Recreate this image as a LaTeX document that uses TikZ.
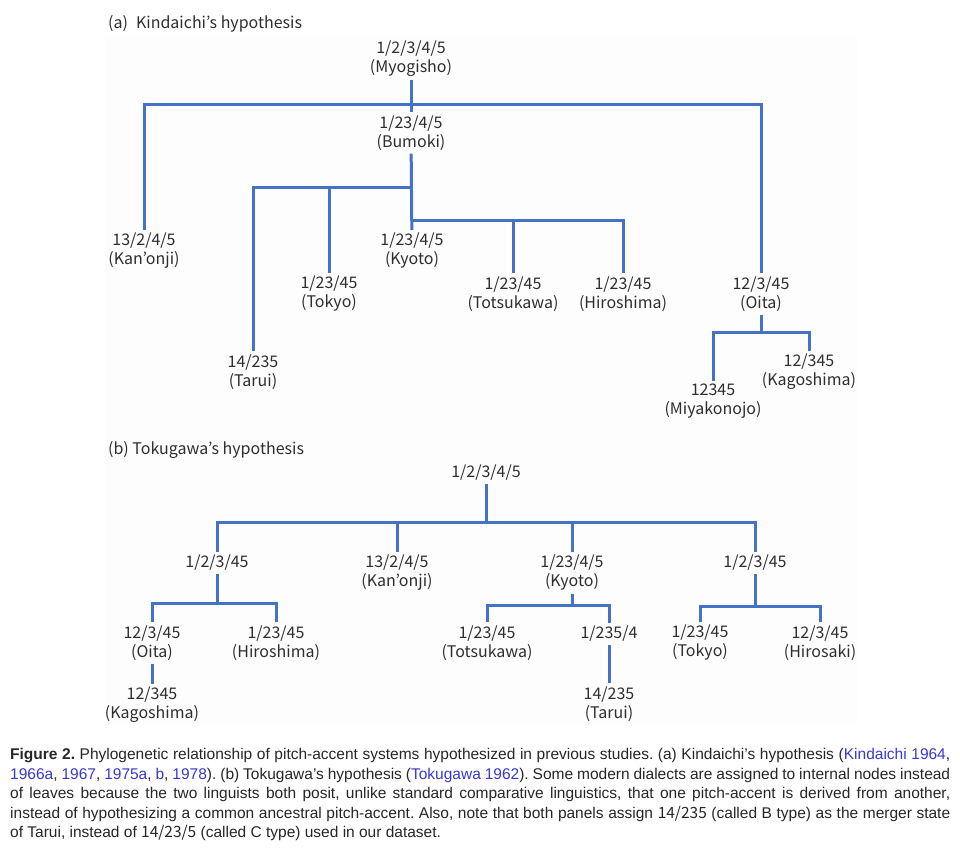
\documentclass[tikz,border=0pt]{standalone}
\usepackage{fontspec}
\setmainfont{Noto Sans CJK JP}
\newfontfamily\capfont{Liberation Sans}
\usepackage{xcolor}
\usetikzlibrary{positioning}
\definecolor{treeblue}{HTML}{4472C4}
\definecolor{citeblue}{HTML}{3838D0}
\definecolor{textgray}{HTML}{2E2E2E}

\tikzset{
  taxon/.style={align=center, inner sep=3pt, text=textgray,
    font=\fontsize{16}{19}\selectfont},
  branch/.style={draw=treeblue, line width=3pt},
}

\begin{document}
\frenchspacing
\begin{tikzpicture}[x=1pt, y=-1pt]
\useasboundingbox (0,0) rectangle (960,849);
\fill[black!0.8] (105,36) rectangle (857,723);

% (a) Kindaichi
\node[taxon, anchor=west] (titlea) at (105,24) {(a)\enspace Kindaichi’s hypothesis};
\node[taxon] (myo) at (411,59) {1/2/3/4/5\\(Myogisho)};
\node[taxon] (bum) at (411,133) {1/23/4/5\\(Bumoki)};
\node[taxon] (kan) at (144,251) {13/2/4/5\\(Kan’onji)};
\node[taxon] (kyo) at (412,251) {1/23/4/5\\(Kyoto)};
\node[taxon] (tok) at (329,294) {1/23/45\\(Tokyo)};
\node[taxon] (tot) at (513,294) {1/23/45\\(Totsukawa)};
\node[taxon] (hir) at (623,294) {1/23/45\\(Hiroshima)};
\node[taxon] (oit) at (761,294) {12/3/45\\(Oita)};
\node[taxon] (tar) at (253,372) {14/235\\(Tarui)};
\node[taxon] (kag) at (809,372) {12/345\\(Kagoshima)};
\node[taxon] (miy) at (713,401) {12345\\(Miyakonojo)};

\coordinate (ja) at (411,104);
\coordinate (jb) at (412,187);
\coordinate (jc) at (412,220);
\coordinate (jd) at (761,332);

\draw[branch] (myo) -- (bum);
\draw[branch] (kan) |- (ja) -| (oit);
\draw[branch] (bum) -- (kyo);
\draw[branch] (tar) |- (jb);
\draw[branch] (tok) |- (jb);
\draw[branch] (jc) -| (tot);
\draw[branch] (jc) -| (hir);
\draw[branch] (oit) -- (jd);
\draw[branch] (miy) |- (jd) -| (kag);

% (b) Tokugawa
\node[taxon, anchor=west] (titleb) at (105,450) {(b) Tokugawa’s hypothesis};
\node[taxon] (root) at (486,473) {1/2/3/4/5};
\node[taxon] (west) at (217,563) {1/2/3/45};
\node[taxon] (kanb) at (397,573) {13/2/4/5\\(Kan’onji)};
\node[taxon] (kyob) at (572,573) {1/23/4/5\\(Kyoto)};
\node[taxon] (east) at (755,563) {1/2/3/45};
\node[taxon] (oitb) at (152,643) {12/3/45\\(Oita)};
\node[taxon] (hirb) at (276,643) {1/23/45\\(Hiroshima)};
\node[taxon] (kagb) at (152,705) {12/345\\(Kagoshima)};
\node[taxon] (totb) at (487,643) {1/23/45\\(Totsukawa)};
\node[taxon] (mid) at (609,634) {1/235/4};
\node[taxon] (tarb) at (609,704) {14/235\\(Tarui)};
\node[taxon] (tokb) at (700,643) {1/23/45\\(Tokyo)};
\node[taxon] (hirs) at (820,643) {12/3/45\\(Hirosaki)};

\coordinate (jr) at (486,522);
\coordinate (jw) at (217,603);
\coordinate (jk) at (572,605);
\coordinate (je) at (755,606);

\draw[branch] (root) -- (jr);
\draw[branch] (west) |- (jr) -| (east);
\draw[branch] (jr) -| (kanb);
\draw[branch] (jr) -| (kyob);
\draw[branch] (west) -- (jw);
\draw[branch] (oitb) |- (jw) -| (hirb);
\draw[branch] (oitb) -- (kagb);
\draw[branch] (kyob) -- (jk);
\draw[branch] (totb) |- (jk) -| (mid);
\draw[branch] (mid) -- (tarb);
\draw[branch] (east) -- (je);
\draw[branch] (tokb) |- (je) -| (hirs);

% caption
\node[anchor=north west, inner sep=0pt, text width=940pt, align=justify,
  text=black!85, font=\capfont\fontsize{15.5}{19.6}\selectfont] (caption) at (10,748)
  {\textbf{Figure 2.} Phylogenetic relationship of pitch-accent systems hypothesized in previous studies. (a) Kindaichi’s hypothesis (\textcolor{citeblue}{Kindaichi 1964},\linebreak
  \textcolor{citeblue}{1966a}, \textcolor{citeblue}{1967}, \textcolor{citeblue}{1975a}, \textcolor{citeblue}{b}, \textcolor{citeblue}{1978}). (b) Tokugawa’s hypothesis (\textcolor{citeblue}{Tokugawa 1962}). Some modern dialects are assigned to internal nodes instead\linebreak
  of leaves because the two linguists both posit, unlike standard comparative linguistics, that one pitch-accent is derived from another,\linebreak
  instead of hypothesizing a common ancestral pitch-accent. Also, note that both panels assign {\rmfamily 14/235} (called B type) as the merger state\linebreak
  of Tarui, instead of {\rmfamily 14/23/5} (called C type) used in our dataset.};
\end{tikzpicture}
\end{document}
